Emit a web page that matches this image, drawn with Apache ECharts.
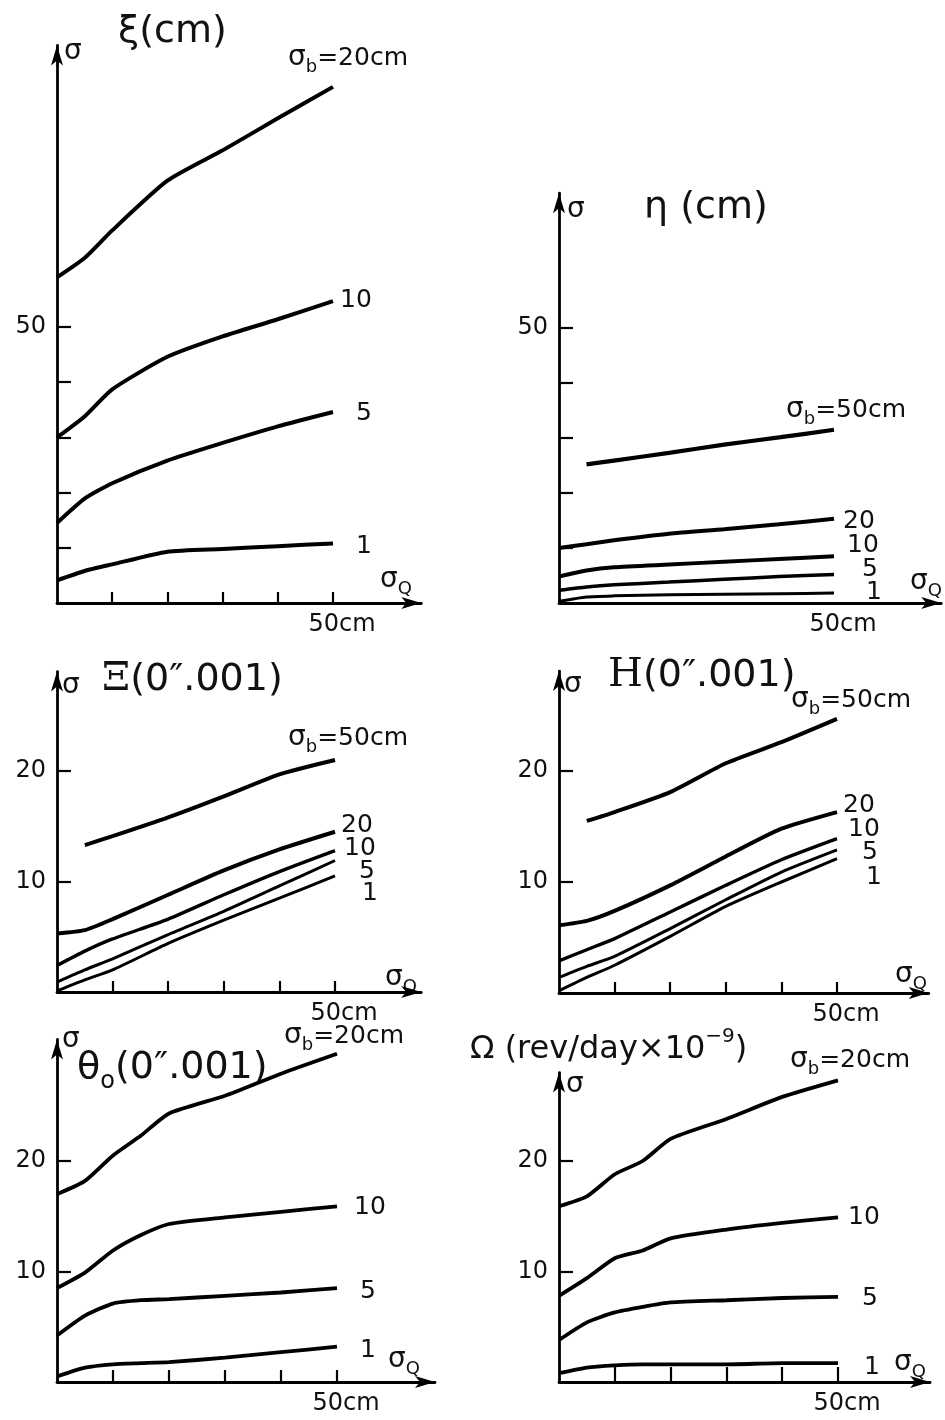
<!DOCTYPE html>
<html><head><meta charset="utf-8">
<script src="https://cdn.jsdelivr.net/npm/echarts@6/dist/echarts.min.js"></script>
<style>html,body{margin:0;padding:0;background:#fff}#c{width:945px;height:1420px}</style>
</head><body><div id="c"></div><script>
// sigma_Q grid (cm)
const SQ_A = [0, 5, 10, 20, 30, 40, 50];
const SQ_B = [0, 5, 10, 15, 20, 30, 40, 50];

// xi (cm)
const xi_b20 = [59, 62.5, 67.5, 76.5, 82, 87.8, 93.5];
const xi_b10 = [30, 33.8, 38.7, 44.6, 48.3, 51.4, 54.7];
const xi_b5  = [14.5, 18.9, 21.7, 25.8, 29, 32, 34.6];
const xi_b1  = [4.1, 5.8, 7.0, 9.3, 9.8, 10.3, 10.8];
// eta (cm)
const eta_b50 = [null, 25.2, 25.9, 27.3, 28.8, 30.1, 31.5];
const eta_b20 = [10, 10.7, 11.4, 12.6, 13.4, 14.3, 15.3];
const eta_b10 = [4.8, 5.9, 6.5, 7.0, 7.5, 8.0, 8.5];
const eta_b5  = [2.3, 2.9, 3.3, 3.8, 4.3, 4.8, 5.2];
const eta_b1  = [0.3, 1.1, 1.3, 1.5, 1.6, 1.7, 1.8];
// Xi (0".001)
const XI_b50 = [null, 13.3, 14.1, 15.8, 17.7, 19.7, 21.0];
const XI_b20 = [5.3, 5.6, 6.6, 8.8, 11.0, 12.9, 14.5];
const XI_b10 = [2.4, 3.7, 4.8, 6.6, 8.8, 10.9, 12.8];
const XI_b5  = [0.9, 2.0, 3.0, 5.2, 7.3, 9.6, 11.9];
const XI_b1  = [0.1, 1.1, 2.0, 4.4, 6.5, 8.5, 10.5];
// Eta (0".001)
const ETA_b50 = [null, 15.5, 16.3, 18.1, 20.7, 22.6, 24.7];
const ETA_b20 = [6.1, 6.5, 7.4, 9.7, 12.3, 14.8, 16.3];
const ETA_b10 = [2.9, 3.9, 4.9, 7.3, 9.7, 12.0, 13.9];
const ETA_b5  = [1.4, 2.4, 3.3, 5.8, 8.4, 10.9, 12.9];
const ETA_b1  = [0.2, 1.4, 2.5, 5.1, 7.8, 10.0, 12.1];
// theta_o (0".001)
const th_b20 = [17.0, 18.2, 20.5, 22.3, 24.3, 25.9, 27.9, 29.7];
const th_b10 = [8.5, 9.9, 11.9, 13.3, 14.3, 14.9, 15.4, 15.9];
const th_b5  = [4.2, 6.0, 7.1, 7.4, 7.5, 7.8, 8.1, 8.5];
const th_b1  = [0.5, 1.3, 1.6, 1.7, 1.8, 2.2, 2.7, 3.2];
// Omega (rev/day x 10^-9)
const om_b20 = [15.9, 16.8, 18.8, 20.0, 22.0, 23.8, 25.8, 27.3];
const om_b10 = [7.8, 9.4, 11.2, 11.9, 13.0, 13.8, 14.4, 14.9];
const om_b5  = [3.8, 5.4, 6.3, 6.8, 7.2, 7.4, 7.6, 7.7];
const om_b1  = [0.8, 1.3, 1.5, 1.6, 1.6, 1.6, 1.7, 1.7];

// tick values
const Y_TICKS_TOP = [10, 20, 30, 40, 50];
const Y_LABELS_TOP = [50];
const Y_TICKS_LOW = [10, 20];
const Y_LABELS_LOW = [10, 20];
const X_TICKS = [10, 20, 30, 40, 50];
const X_LABELS = [50];

const FONT = 'DejaVu Sans';
const SERIF = 'DejaVu Serif';
const INK = '#111';

function pts(xs, ys) {
  const out = [];
  xs.forEach((x, i) => { if (ys[i] != null) out.push([x, ys[i]]); });
  return out;
}

const panels = [
  { x0: 57,  y0: 603,  sx: 5.52, sy: 5.52, xmax: 66,   ymax: 101, yT: Y_TICKS_TOP, yL: Y_LABELS_TOP, xt: true, xtl: 11,
    xs: SQ_A, curves: [[xi_b20, 4], [xi_b10, 4], [xi_b5, 4], [xi_b1, 4]] },
  { x0: 559, y0: 603,  sx: 5.5,  sy: 5.5,  xmax: 69.5, ymax: 74.5, yT: Y_TICKS_TOP, yL: Y_LABELS_TOP, xt: false, xtl: 6,
    xs: SQ_A, curves: [[eta_b50, 4.2], [eta_b20, 4], [eta_b10, 4], [eta_b5, 3.5], [eta_b1, 3]] },
  { x0: 57,  y0: 992,  sx: 5.56, sy: 11.05, xmax: 65.5, ymax: 29, yT: Y_TICKS_LOW, yL: Y_LABELS_LOW, xt: true, xtl: 11,
    xs: SQ_A, curves: [[XI_b50, 4], [XI_b20, 4], [XI_b10, 3.4], [XI_b5, 3], [XI_b1, 3]] },
  { x0: 559, y0: 993,  sx: 5.56, sy: 11.1, xmax: 66.5, ymax: 29, yT: Y_TICKS_LOW, yL: Y_LABELS_LOW, xt: true, xtl: 11,
    xs: SQ_A, curves: [[ETA_b50, 4], [ETA_b20, 4], [ETA_b10, 3.4], [ETA_b5, 3], [ETA_b1, 3]] },
  { x0: 57,  y0: 1382, sx: 5.6,  sy: 11.05, xmax: 67.5, ymax: 31, yT: Y_TICKS_LOW, yL: Y_LABELS_LOW, xt: true, xtl: 12,
    xs: SQ_B, curves: [[th_b20, 3.8], [th_b10, 3.8], [th_b5, 3.8], [th_b1, 3.8]] },
  { x0: 559, y0: 1382, sx: 5.58, sy: 11.05, xmax: 66.5, ymax: 28, yT: Y_TICKS_LOW, yL: Y_LABELS_LOW, xt: true, xtl: 15,
    xs: SQ_B, curves: [[om_b20, 3.8], [om_b10, 3.8], [om_b5, 3.8], [om_b1, 3.8]] }
];

const grid = [], xAxis = [], yAxis = [], series = [];
panels.forEach((p, i) => {
  grid.push({ left: p.x0, top: p.y0 - p.ymax * p.sy, width: p.xmax * p.sx, height: p.ymax * p.sy,
              containLabel: false, outerBoundsMode: 'none' });
  xAxis.push({
    type: 'value', gridIndex: i, min: 0, max: p.xmax, splitLine: { show: false },
    axisLine: { show: true, lineStyle: { color: '#000', width: 2.8 }, symbol: ['none', 'arrow'], symbolSize: [9, 20] },
    axisTick: { show: p.xt, inside: true, length: p.xtl, customValues: X_TICKS, lineStyle: { color: '#000', width: 2.2 } },
    axisLabel: { customValues: X_LABELS, formatter: v => '{u|' + v + 'cm}', hideOverlap: false, margin: 10,
                 rich: { u: { fontSize: 24, fontFamily: FONT, color: INK, padding: [0, 0, 0, 18] } } }
  });
  yAxis.push({
    type: 'value', gridIndex: i, min: 0, max: p.ymax, splitLine: { show: false },
    axisLine: { show: true, lineStyle: { color: '#000', width: 2.8 }, symbol: ['none', 'arrow'], symbolSize: [9, 20] },
    axisTick: { show: true, inside: true, length: 14, customValues: p.yT, lineStyle: { color: '#000', width: 2.2 } },
    axisLabel: { customValues: p.yL, fontSize: 24, fontFamily: FONT, color: INK, margin: 11 }
  });
  p.curves.forEach(c => {
    series.push({ type: 'line', xAxisIndex: i, yAxisIndex: i, data: pts(p.xs, c[0]), showSymbol: false,
                  smooth: 0.2, lineStyle: { color: '#000', width: c[1] }, silent: true });
  });
});

const RICH = {
  n:  { fontSize: 25, fontFamily: FONT, fill: INK, lineHeight: 36 },
  s:  { fontSize: 28, fontFamily: FONT, fill: INK, lineHeight: 36 },
  b:  { fontSize: 18, fontFamily: FONT, fill: INK, lineHeight: 12, verticalAlign: 'bottom' },
  T:  { fontSize: 38, fontFamily: FONT, fill: INK, lineHeight: 52 },
  T6: { fontSize: 32, fontFamily: FONT, fill: INK, lineHeight: 46 },
  TS: { fontSize: 40, fontFamily: SERIF, fill: INK, lineHeight: 52 },
  Tb: { fontSize: 24, fontFamily: FONT, fill: INK, lineHeight: 16, verticalAlign: 'bottom' },
  Tp: { fontSize: 20, fontFamily: FONT, fill: INK, lineHeight: 20, verticalAlign: 'top' }
};
function txt(x, y, text, size) {
  return { type: 'text', x: x, y: y, silent: true,
           style: { text: text, fontSize: size || 25, fontFamily: FONT, fill: INK, rich: RICH,
                    align: 'left', verticalAlign: 'middle' } };
}
const sb = v => '{s|σ}{b|b}{n|=' + v + 'cm}';
const sQ = '{s|σ}{b|Q}';

const graphic = [
  // panel 1
  txt(64, 52, '{s|σ}'), txt(118, 32, '{T|ξ(cm)}'), txt(288, 58, sb(20)),
  txt(340, 300, '10'), txt(356, 413, '5'), txt(356, 546, '1'), txt(380, 580, sQ),
  // panel 2
  txt(567, 210, '{s|σ}'), txt(644, 208, '{T|η (cm)}'), txt(786, 410, sb(50)),
  txt(843, 521, '20'), txt(847, 545, '10'), txt(862, 569, '5'), txt(866, 592, '1'), txt(910, 582, sQ),
  // panel 3
  txt(62, 686, '{s|σ}'), txt(102, 680, '{TS|Ξ}{T|(0″.001)}'), txt(288, 738, sb(50)),
  txt(341, 825, '20'), txt(344, 848, '10'), txt(359, 871, '5'), txt(362, 893, '1'), txt(385, 978, sQ),
  // panel 4
  txt(564, 685, '{s|σ}'), txt(608, 676, '{TS|Η}{T|(0″.001)}'), txt(791, 700, sb(50)),
  txt(843, 805, '20'), txt(848, 829, '10'), txt(862, 852, '5'), txt(866, 877, '1'), txt(895, 975, sQ),
  // panel 5
  txt(62, 1040, '{s|σ}'), txt(77, 1068, '{T|θ}{Tb|o}{T|(0″.001)}'), txt(284, 1036, sb(20)),
  txt(354, 1207, '10'), txt(360, 1291, '5'), txt(360, 1350, '1'), txt(388, 1360, sQ),
  // panel 6
  txt(470, 1050, '{T6|Ω (rev/day×10}{Tp|−9}{T6|)}'), txt(566, 1085, '{s|σ}'), txt(790, 1060, sb(20)),
  txt(848, 1217, '10'), txt(862, 1298, '5'), txt(864, 1367, '1'), txt(894, 1363, sQ)
];

const chart = echarts.init(document.getElementById('c'), null, { renderer: 'canvas' });
chart.setOption({ animation: false, backgroundColor: '#fff', grid, xAxis, yAxis, series, graphic });
</script></body></html>
